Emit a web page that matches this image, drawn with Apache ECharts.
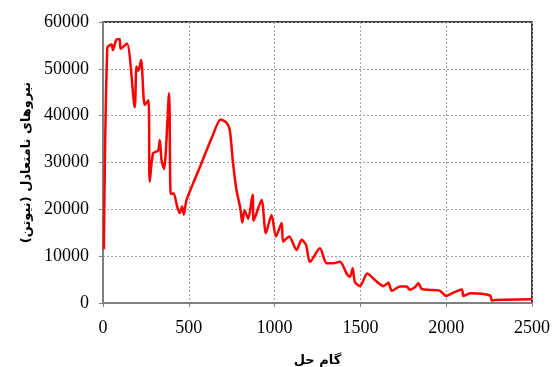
<!DOCTYPE html>
<html>
<head>
<meta charset="utf-8">
<script src="https://cdn.jsdelivr.net/npm/echarts@6/dist/echarts.min.js"></script>
<style>html,body{margin:0;padding:0;background:#fff}#c{width:552px;height:367px}</style>
</head>
<body>
<div id="c"></div>
<script>
var xTitle = 'گام حل';
var yTitle = 'نیروهای نامتعادل (نیوتن)';
var steps = [5,25,50,58,80,97,103,140,185,195,206,222,243,265,272,292,321,331,341,356,385,395,412,432,447,461,471,487,560,640,685,720,739,758,778,800,812,825,846,872,878,924,949,982,1008,1041,1050,1085,1128,1157,1183,1206,1264,1303,1342,1381,1420,1439,1455,1468,1498,1540,1585,1634,1663,1683,1731,1770,1788,1819,1838,1857,1910,1964,2000,2013,2091,2100,2140,2256,2266,2285,2500];
var forces = [11500,54500,55200,54000,56300,56300,54300,55400,41800,50500,49600,51900,42300,43300,25900,32000,32500,34800,30500,28600,44800,23300,23400,20600,19200,20600,18900,22000,28600,35800,39200,38500,36900,29800,24100,20300,17200,19800,18000,23100,17600,22000,14900,18800,14200,17100,13100,14200,11300,13500,12400,8800,11700,8500,8500,8800,6300,5600,7400,4500,3600,6300,4900,3600,4300,2600,3500,3500,2800,3400,4200,3000,2800,2600,1500,1700,2900,1500,2100,1600,500,650,800];
var xMin = 0, xMax = 2500, xStep = 500;
var yMin = 0, yMax = 60000, yStep = 10000;

var data = steps.map(function(s, i){ return [s, forces[i]]; });
var chart = echarts.init(document.getElementById('c'), null, {renderer:'canvas'});
var tickFont = {fontFamily:'Liberation Serif', fontSize:18, color:'#000', formatter:function(v){return String(v);}};
chart.setOption({
  animation:false,
  grid:{left:103, right:20, top:22, bottom:64, outerBoundsMode:'none', containLabel:false, show:true, borderColor:'#000', borderWidth:1.5, backgroundColor:'transparent'},
  xAxis:{type:'value', min:xMin, max:xMax, interval:xStep,
    name:xTitle, nameLocation:'middle', nameGap:51, nameMoveOverlap:false,
    nameTextStyle:{fontFamily:'DejaVu Sans', fontWeight:'bold', fontSize:13, color:'#000'},
    axisLine:{lineStyle:{color:'#7f7f7f', width:2}},
    axisTick:{show:true, length:4, lineStyle:{color:'#7f7f7f'}},
    axisLabel:Object.assign({margin:16}, tickFont),
    splitLine:{show:true, lineStyle:{color:'#a0a0a0', type:[2,2], width:1}}},
  yAxis:{type:'value', min:yMin, max:yMax, interval:yStep,
    name:yTitle, nameLocation:'middle', nameGap:70, nameRotate:90, nameMoveOverlap:false,
    nameTextStyle:{fontFamily:'DejaVu Sans', fontWeight:'bold', fontSize:13, color:'#000'},
    axisLine:{show:true, lineStyle:{color:'#7f7f7f', width:2}},
    axisTick:{show:true, length:4, lineStyle:{color:'#7f7f7f'}},
    axisLabel:Object.assign({margin:14}, tickFont),
    splitLine:{show:true, lineStyle:{color:'#a0a0a0', type:[2,2], width:1}}},
  series:[{type:'line', data:data, smooth:0.25, showSymbol:false,
    lineStyle:{color:'#ff0000', width:2.5}}]
});
</script>
</body>
</html>
